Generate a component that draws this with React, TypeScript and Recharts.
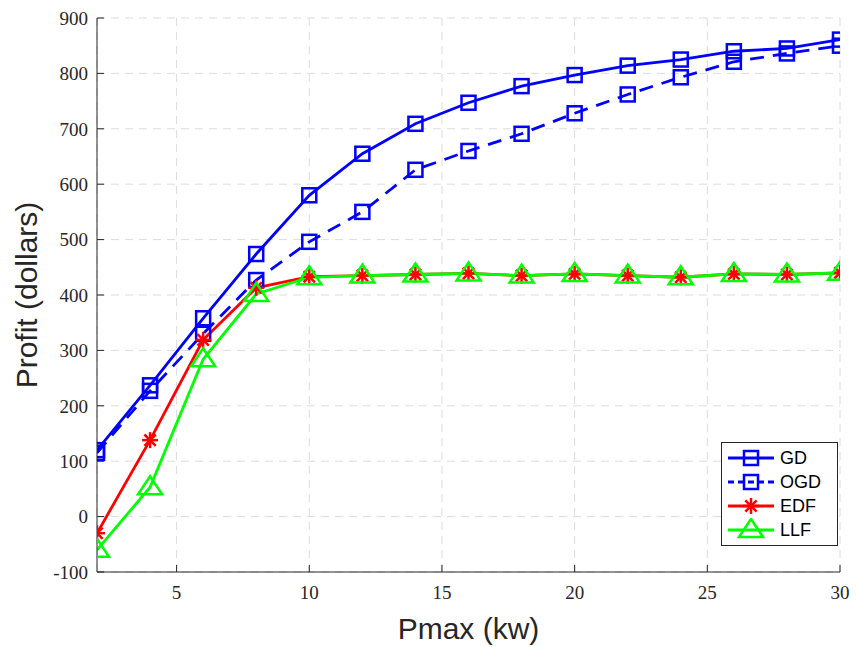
import { LineChart, Line, XAxis, YAxis, CartesianGrid, Label } from "recharts";

const pmax = [2, 4, 6, 8, 10, 12, 14, 16, 18, 20, 22, 24, 26, 28, 30];
const gd = [120, 237, 358, 474, 580, 655, 709, 747, 777, 797, 814, 825, 840, 845, 861];
const ogd = [115, 227, 330, 427, 496, 550, 626, 660, 691, 728, 762, 793, 821, 836, 850];
const edf = [-30, 138, 319, 413, 433, 435, 437, 439, 435, 438, 435, 432, 438, 437, 440];
const llf = [-60, 53, 284, 402, 432, 435, 437, 439, 435, 438, 435, 432, 438, 437, 440];

const xTicks = [5, 10, 15, 20, 25, 30];
const yTicks = [-100, 0, 100, 200, 300, 400, 500, 600, 700, 800, 900];

const data = pmax.map((x, i) => ({ x, gd: gd[i], ogd: ogd[i], edf: edf[i], llf: llf[i] }));

const BLUE = "#0000ff";
const RED = "#ff0000";
const GREEN = "#00ff00";
const AXIS = "#262626";

function Square({ cx, cy }: { cx: number; cy: number }) {
  return <rect x={cx - 7} y={cy - 7} width={14} height={14} fill="none" stroke={BLUE} strokeWidth={2.5} />;
}

function Star({ cx, cy }: { cx: number; cy: number }) {
  const r = 8;
  const d = r * 0.7071;
  return (
    <g stroke={RED} strokeWidth={2.5}>
      <line x1={cx - r} y1={cy} x2={cx + r} y2={cy} />
      <line x1={cx} y1={cy - r} x2={cx} y2={cy + r} />
      <line x1={cx - d} y1={cy - d} x2={cx + d} y2={cy + d} />
      <line x1={cx - d} y1={cy + d} x2={cx + d} y2={cy - d} />
    </g>
  );
}

function Tri({ cx, cy }: { cx: number; cy: number }) {
  return (
    <polygon
      points={`${cx},${cy - 11} ${cx - 12},${cy + 7} ${cx + 12},${cy + 7}`}
      fill="none"
      stroke={GREEN}
      strokeWidth={2.5}
    />
  );
}

const dotOf = (M: typeof Square) => (p: any) =>
  p.cx == null ? <g key={`e-${p.index}`} /> : <M key={`m-${p.index}`} cx={p.cx} cy={p.cy} />;

const legendItems = [
  { name: "GD", color: BLUE, dash: undefined, M: Square },
  { name: "OGD", color: BLUE, dash: "6 4", M: Square },
  { name: "EDF", color: RED, dash: undefined, M: Star },
  { name: "LLF", color: GREEN, dash: undefined, M: Tri },
];

function LegendBox() {
  return (
    <div
      style={{
        position: "absolute",
        left: 721,
        top: 442,
        width: 115,
        padding: "3px 0",
        border: "1px solid #262626",
        background: "#fff",
        fontFamily: "Liberation Sans, Arial, sans-serif",
        fontSize: 18,
        color: "#000",
      }}
    >
      {legendItems.map((it) => (
        <div key={it.name} style={{ display: "flex", alignItems: "center", height: 24 }}>
          <svg width={52} height={24} style={{ marginLeft: 4 }}>
            <line x1={2} y1={12} x2={48} y2={12} stroke={it.color} strokeWidth={2.8} strokeDasharray={it.dash} />
            <it.M cx={25} cy={12} />
          </svg>
          <span style={{ marginLeft: 2 }}>{it.name}</span>
        </div>
      ))}
    </div>
  );
}

const tickFont = { fontFamily: "Liberation Serif, serif", fontSize: 19, fill: AXIS };
const labelFont = { fontFamily: "Liberation Sans, Arial, sans-serif", fontSize: 30, fill: AXIS };

export default function App() {
  return (
    <div style={{ position: "absolute", left: 0, top: 0, width: 856, height: 647 }}>
      <LineChart width={856} height={647} data={data} margin={{ top: 18, right: 16, left: 0, bottom: 0 }}>
        <CartesianGrid stroke="#dcdcdc" strokeDasharray="8 6" />
        <XAxis
          dataKey="x"
          type="number"
          domain={[2, 30]}
          ticks={xTicks}
          allowDataOverflow
          height={75}
          tickSize={-7}
          tickMargin={21}
          stroke={AXIS}
          tick={tickFont}
        >
          <Label value="Pmax (kw)" position="insideBottom" offset={8} style={labelFont} />
        </XAxis>
        <YAxis
          type="number"
          domain={[-100, 900]}
          ticks={yTicks}
          allowDataOverflow
          width={97}
          tickSize={-7}
          tickMargin={16}
          stroke={AXIS}
          tick={tickFont}
        >
          <Label
            value="Profit (dollars)"
            angle={-90}
            position="insideLeft"
            offset={26}
            style={{ ...labelFont, textAnchor: "middle" }}
          />
        </YAxis>
        <Line dataKey="gd" stroke={BLUE} strokeWidth={2.8} dot={dotOf(Square)} activeDot={false} isAnimationActive={false} />
        <Line
          dataKey="ogd"
          stroke={BLUE}
          strokeWidth={2.8}
          strokeDasharray="14 9"
          dot={dotOf(Square)}
          activeDot={false}
          isAnimationActive={false}
        />
        <Line dataKey="edf" stroke={RED} strokeWidth={2.8} dot={dotOf(Star)} activeDot={false} isAnimationActive={false} />
        <Line dataKey="llf" stroke={GREEN} strokeWidth={2.8} dot={dotOf(Tri)} activeDot={false} isAnimationActive={false} />
      </LineChart>
      <LegendBox />
    </div>
  );
}
